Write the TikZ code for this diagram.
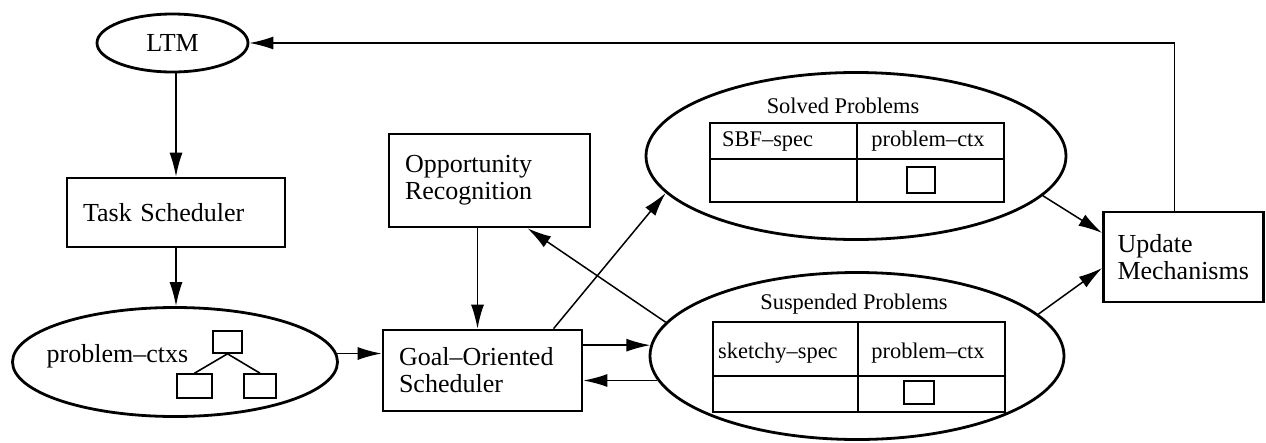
\documentclass[tikz,border=0pt]{standalone}
\usepackage{fontspec}
\setmainfont{Liberation Serif}
\usetikzlibrary{arrows.meta,shapes.geometric}

\tikzset{
  procbox/.style={draw,line width=2.6pt,align=left,inner xsep=16pt,inner ysep=0pt},
  store/.style={draw,ellipse,line width=2.8pt,inner sep=0pt},
  flow/.style={line width=1.5pt,-{Latex[length=24pt,width=13pt]}},
  cell/.style={font=\fontsize{22.4}{24}\selectfont,inner sep=0pt},
  tinybox/.style={draw,line width=1.6pt,inner sep=0pt},
}

\begin{document}
\begin{tikzpicture}[x=1pt,y=-1pt,every node/.style={font=\fontsize{26}{27}\selectfont}]
 \useasboundingbox (0,0) rectangle (1266,442);
 % stores
 \node[store,minimum width=151pt,minimum height=58pt] (ltm) at (172.5,43) {LTM};
 \node[store,minimum width=325pt,minimum height=109pt] (pctx) at (175,362) {};
 \node[store,minimum width=420pt,minimum height=167pt] (solved) at (856,156) {};
 \node[store,minimum width=414pt,minimum height=167pt] (susp) at (857,356) {};
 % processes
 \node[procbox,text width=186pt,minimum height=69pt] (task) at (176,212.5) {Task Scheduler};
 \node[procbox,text width=169pt,minimum height=93pt] (opp) at (489.5,180.5) {Opportunity\\Recognition};
 \node[procbox,text width=167pt,minimum height=81pt] (goal) at (482.5,370.5) {Goal--Oriented\\Scheduler};
 \node[procbox,inner xsep=14pt,text width=132pt,minimum height=90pt] (upd) at (1183.5,257) {Update\\Mechanisms};
 % problem-ctxs tree
 \node[inner sep=0pt] (pctxlbl) at (117.5,356) {problem--ctxs};
 \node[tinybox,minimum width=29pt,minimum height=22pt] (root) at (227.5,342) {};
 \node[tinybox,minimum width=35pt,minimum height=24pt] (kidl) at (194.5,386) {};
 \node[tinybox,minimum width=32pt,minimum height=24pt] (kidr) at (260,386) {};
 \draw[line width=1.6pt] (root.south) -- (kidl.north) (root.south) -- (kidr.north);
 % solved problems table
 \node[cell] (soltitle) at (843,106) {Solved Problems};
 \draw[line width=1.7pt] (710,123) rectangle (1004,202) (857,123) -- (857,202) (710,159) -- (1004,159);
 \draw[line width=1.6pt] (907,167) rectangle (935,193);
 \node[cell,anchor=west] (solspec) at (722,141) {SBF--spec};
 \node[cell] (solctx) at (928,141) {problem--ctx};
 % suspended problems table
 \node[cell] (susptitle) at (854,304) {Suspended Problems};
 \draw[line width=1.7pt] (713,322) rectangle (1005,412) (858,322) -- (858,412) (713,376) -- (1005,376);
 \draw[line width=1.6pt] (904,381) rectangle (934,404);
 \node[cell,anchor=west] (suspspec) at (718,353) {sketchy--spec};
 \node[cell] (suspctx) at (928,353) {problem--ctx};
 % connectors
 \draw[flow] (ltm.south -| task.north) -- (task.north);
 \draw[flow] (task.south) -- (task.south |- pctx.north);
 \draw[flow] (pctx.3) -- (pctx.3 -| goal.west);
 \draw[flow] ([xshift=-12pt]opp.south) -- ([xshift=-12pt]opp.south |- goal.north);
 \draw[flow] ([xshift=71pt]goal.north) -- (solved.191);
 \draw[flow] (susp.170) -- ([xshift=38pt]opp.south);
 \draw[flow] (goal.east |- susp.177) -- (susp.177);
 \draw[flow] (susp.187) -- (susp.187 -| goal.east);
 \draw[flow] (solved.348) -- ([yshift=24pt]upd.west);
 \draw[flow] (susp.13) -- ([yshift=-11pt]upd.west);
 \draw[flow] ([xshift=-9pt]upd.north) |- (ltm.east);
\end{tikzpicture}
\end{document}
